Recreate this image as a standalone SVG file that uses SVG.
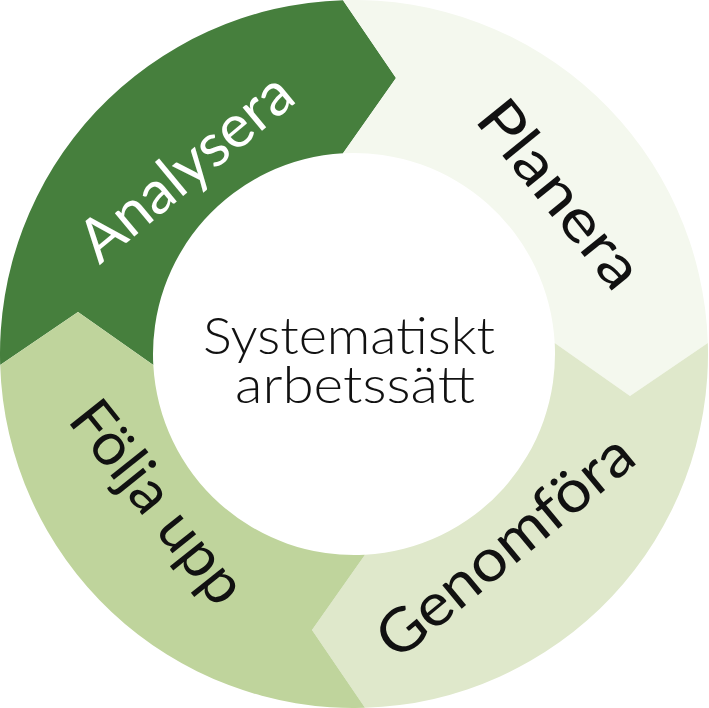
<svg xmlns="http://www.w3.org/2000/svg" width="709" height="708" viewBox="0 0 709 708">
<style>
.lbl{font-family:"Lato","Liberation Sans",sans-serif;font-weight:400;font-size:60px;text-anchor:middle}
.ctr{font-family:"Lato","Liberation Sans",sans-serif;font-weight:300;font-size:51px;text-anchor:middle;fill:#111}
</style>
<defs>
<path id="seg" d="M 0.17 365 L 78 312 L 153.3 365 A 201 201 0 0 1 343 153.3 L 396 78 L 343 0.17 A 354 354 0 0 0 0.17 365 Z"/>
</defs>
<rect width="709" height="708" fill="#fff"/>
<g id="analysera">
<use href="#seg" fill="#467F3D"/>
<text class="lbl" fill="#fff" textLength="258" lengthAdjust="spacingAndGlyphs" transform="translate(199 183) rotate(-39.6)">Analysera</text>
</g>
<g id="planera">
<use href="#seg" fill="#F4F8EE" transform="rotate(90 354 354)"/>
<text class="lbl" fill="#111" textLength="224" lengthAdjust="spacingAndGlyphs" transform="translate(544 207) rotate(51)">Planera</text>
</g>
<g id="genomfora">
<use href="#seg" fill="#DFE8CB" transform="rotate(180 354 354)"/>
<text class="lbl" fill="#111" textLength="314" lengthAdjust="spacingAndGlyphs" transform="translate(518 562) rotate(-39.6)">Genomföra</text>
</g>
<g id="folja-upp">
<use href="#seg" fill="#BFD49C" transform="rotate(270 354 354)"/>
<text class="lbl" fill="#111" textLength="242" lengthAdjust="spacingAndGlyphs" transform="translate(142 515) rotate(51.4)">Följa upp</text>
</g>
<g id="center">
<text class="ctr" x="349" y="354" textLength="292" lengthAdjust="spacingAndGlyphs">Systematiskt</text>
<text class="ctr" x="355" y="403" textLength="240" lengthAdjust="spacingAndGlyphs">arbetssätt</text>
</g>
<g id="connectors"/>
</svg>
